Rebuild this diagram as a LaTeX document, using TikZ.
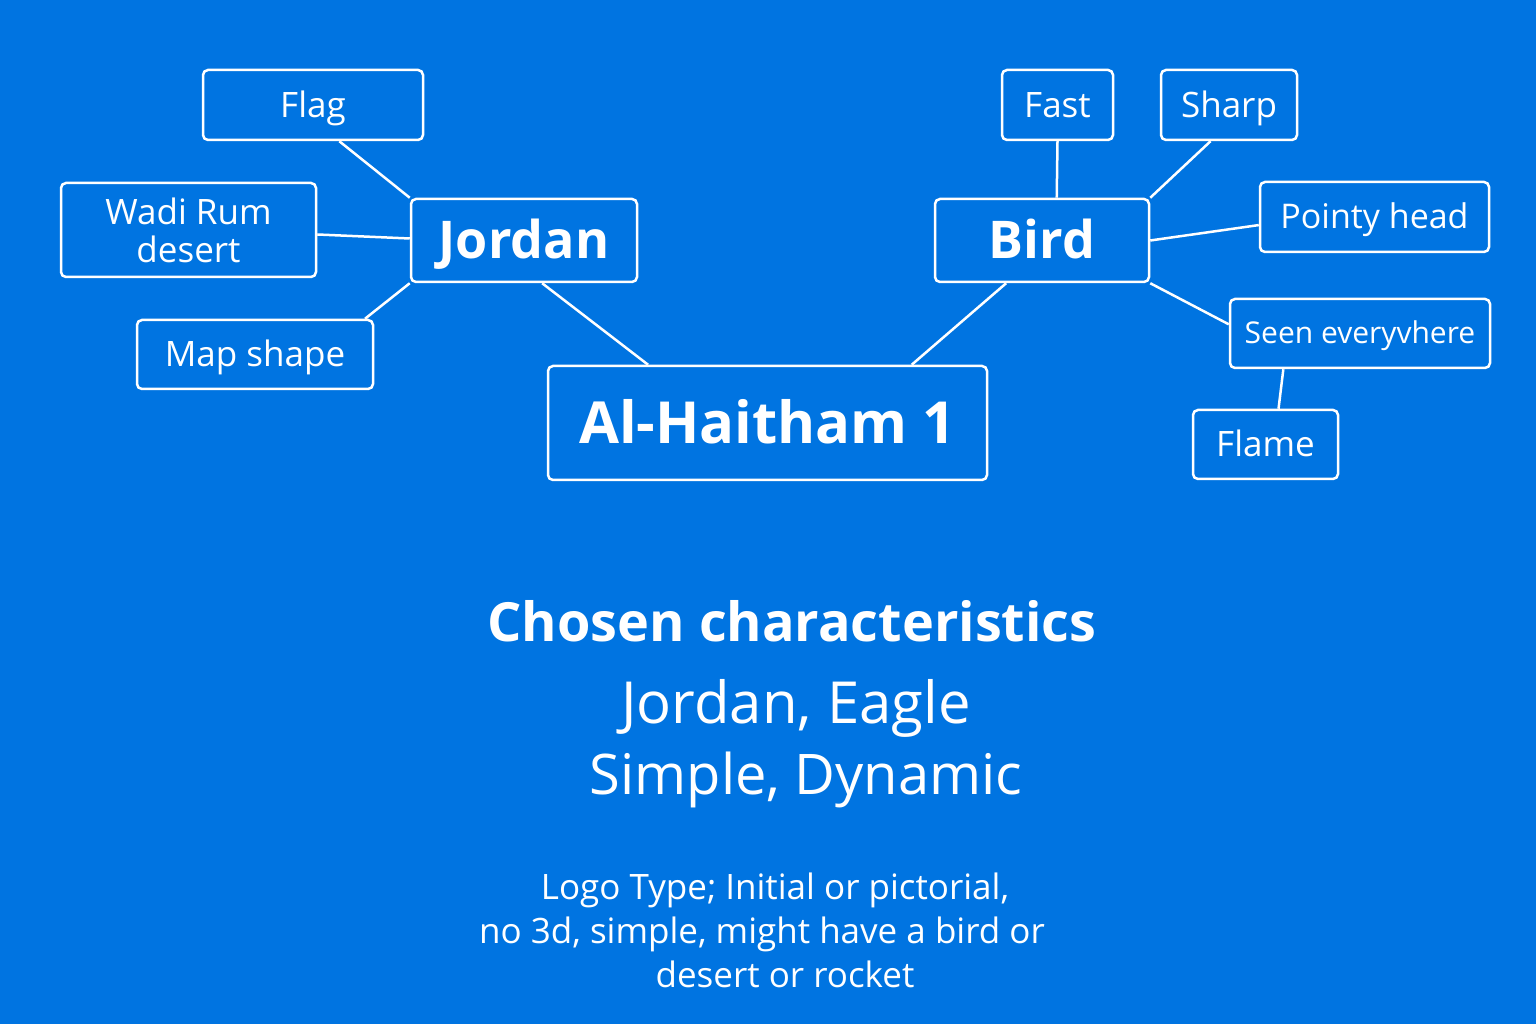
\documentclass[tikz,border=0pt]{standalone}
\usepackage{fontspec}
\setmainfont{Open Sans}
\definecolor{bgblue}{RGB}{0,116,225}
\newcommand{\fs}[2]{\fontsize{#1}{#2}\selectfont}

\begin{document}
\begin{tikzpicture}[x=1pt,y=1pt,
    box/.style={draw=white, line width=2.5pt, rounded corners=5pt, text=white, inner sep=0pt,
        font=\fs{35}{38}, text height=25pt, text depth=0pt},
    main/.style={box, font=\fs{52}{60}\bfseries, text height=37pt},
    conn/.style={draw=white, line width=2.5pt},
    txt/.style={text=white, inner sep=0pt, anchor=base}]

    \fill[bgblue] (0,0) rectangle (1536,1024);
    \useasboundingbox (0,0) rectangle (1536,1024);

    \node[main, minimum width=439, minimum height=114, font=\fs{58}{64}\bfseries, text height=41pt] (haitham) at (767.5,601) {Al-Haitham 1};

    \node[main, minimum width=226, minimum height=83] (jordan) at (524,783.5) {Jordan};
    \node[box, minimum width=220, minimum height=70] (flag) at (313,919) {Flag};
    \node[box, minimum width=255, minimum height=94, align=center, text height=, text depth=] (wadi) at (188.5,794) {Wadi Rum\\desert};
    \node[box, minimum width=236, minimum height=69] (map) at (255,669.5) {Map shape};

    \node[main, minimum width=214, minimum height=83] (bird) at (1042,783.5) {Bird};
    \node[box, minimum width=111, minimum height=70] (fast) at (1057.5,919) {Fast};
    \node[box, minimum width=136, minimum height=70] (sharp) at (1229,919) {Sharp};
    \node[box, minimum width=229, minimum height=70, font=\fs{34}{38}, text height=24pt] (pointy) at (1374.5,807) {Pointy head};
    \node[box, minimum width=260, minimum height=69, font=\fs{30}{34}, text height=21pt] (seen) at (1360,690.5) {Seen everyvhere};
    \node[box, minimum width=145, minimum height=69] (flame) at (1265.5,579.5) {Flame};

    % Jordan branch
    \draw[conn] (flag.-54) -- (jordan.north west);
    \draw[conn] (wadi.-2) -- (jordan.179);
    \draw[conn] (map.18) -- (jordan.south west);
    \draw[conn] (jordan.-67) -- (haitham.154.5);

    % Bird branch
    \draw[conn] (bird.-130) -- (haitham.22.5);
    \draw[conn] (fast.south) -- (bird.71);
    \draw[conn] (sharp.-117) -- (bird.north east);
    \draw[conn] (pointy.-176) -- (bird.east);
    \draw[conn] (bird.south east) -- (seen.176.7);
    \draw[conn] (seen.-155.6) -- (flame.70);

    \node[txt, font=\fs{54}{60}\bfseries] (chosen) at (792,382) {Chosen characteristics};
    \node[txt, font=\fs{58}{60}] (line1) at (796,300) {Jordan, Eagle};
    \node[txt, font=\fs{56}{60}] (line2) at (806,229) {Simple, Dynamic};

    \node[txt, font=\fs{35}{40}] (logo1) at (775,124) {Logo Type; Initial or pictorial,};
    \node[txt, font=\fs{35}{40}] (logo2) at (762,80) {no 3d, simple, might have a bird or};
    \node[txt, font=\fs{35}{40}] (logo3) at (785,36) {desert or rocket};

\end{tikzpicture}
\end{document}
